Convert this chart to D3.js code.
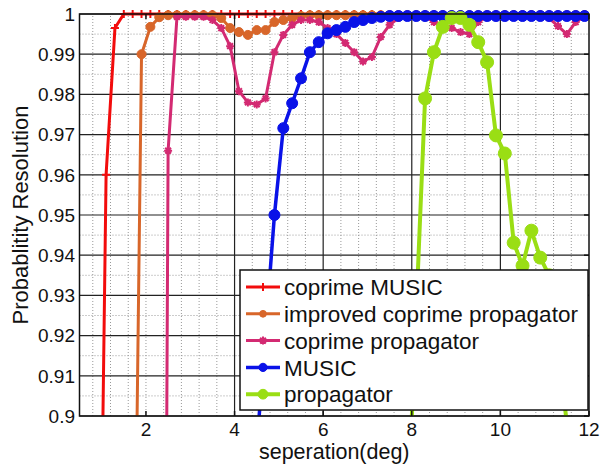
<!DOCTYPE html>
<html>
<head>
<meta charset="utf-8">
<script src="https://cdn.jsdelivr.net/npm/d3@7"></script>
<style>
  body { margin: 0; background: #fff; }
  text { font-family: Arial, "Liberation Sans", sans-serif; fill: #111; }
</style>
</head>
<body>
<svg id="chart" width="607" height="465"></svg>
<script>
// separation angles (deg) where each curve was sampled
const separation = [
  0.5, 0.7, 0.9, 1.1, 1.3, 1.5, 1.7, 1.9, 2.1, 2.3,
  2.5, 2.7, 2.9, 3.1, 3.3, 3.5, 3.7, 3.9, 4.1, 4.3,
  4.5, 4.7, 4.9, 5.1, 5.3, 5.5, 5.7, 5.9, 6.1, 6.3,
  6.5, 6.7, 6.9, 7.1, 7.3, 7.5, 7.7, 7.9, 8.1, 8.3,
  8.5, 8.7, 8.9, 9.1, 9.3, 9.5, 9.7, 9.9, 10.1, 10.3,
  10.5, 10.7, 10.9, 11.1, 11.3, 11.5, 11.7, 11.9
];

// null = far below the visible range
const coprimeMusic = [
  null, null, 0.79, 0.960, 0.9965, 1, 1, 1, 1, 1,
  1, 1, 1, 1, 1, 1, 1, 1, 1, 1,
  1, 1, 1, 1, 1, 1, 1, 1, 1, 1,
  1, 1, 1, 1, 1, 1, 1, 1, 1, 1,
  1, 1, 1, 1, 1, 1, 1, 1, 1, 1,
  1, 1, 1, 1, 1, 1, 1, 1
];
const improvedCoprimeProp = [
  null, null, null, null, null, null, 0.81, 0.990, 0.9968, 0.9992,
  0.9997, 0.9997, 0.9997, 0.9997, 0.9997, 0.9997, 0.999, 0.9965, 0.9955, 0.9948,
  0.996, 0.996, 0.998, 0.9985, 0.999, 0.9995, 0.9997, 0.9997, 0.9997, 0.9997,
  0.9997, 0.9997, 0.9997, 0.9997, 0.9997, 0.9997, 0.9997, 0.9997, 0.9997, 0.9997,
  0.9997, 0.9997, 0.9997, 0.9997, 0.9997, 0.9997, 0.9997, 0.9997, 0.9997, 0.9997,
  0.9997, 0.9997, 0.9997, 0.9997, 0.9997, 0.9997, 0.9997, 0.9997
];
const coprimeProp = [
  null, null, null, null, null, null, null, null, null, 0.526,
  0.966, 0.9993, 0.9993, 0.9993, 0.9993, 0.9985, 0.9965, 0.992, 0.9808, 0.978,
  0.9775, 0.979, 0.9905, 0.9948, 0.9973, 0.9985, 0.9985, 0.998, 0.9965, 0.995,
  0.9928, 0.9905, 0.9882, 0.9893, 0.9943, 0.9973, 0.999, 0.9993, 0.9993, 0.9993,
  0.998, 0.997, 0.9965, 0.9955, 0.995, 0.998, 0.9993, 0.9993, 0.9993, 0.9993,
  0.9993, 0.9993, 0.9993, 0.999, 0.997, 0.995, 0.998, 0.9993
];
const music = [
  null, null, null, null, null, null, null, null, null, null,
  null, null, null, null, null, null, null, null, null, null,
  0.892, 0.921, 0.950, 0.9716, 0.9778, 0.984, 0.9905, 0.993, 0.9952, 0.996,
  0.9968, 0.998, 0.9985, 0.999, 0.9993, 0.9995, 0.9995, 0.9995, 0.9995, 0.9995,
  0.9995, 0.9995, 0.9995, 0.9995, 0.9995, 0.9995, 0.9995, 0.9995, 0.9995, 0.9995,
  0.9995, 0.9995, 0.9995, 0.9995, 0.9995, 0.9995, 0.9995, 0.9995
];
const propagator = [
  null, null, null, null, null, null, null, null, null, null,
  null, null, null, null, null, null, null, null, null, null,
  null, null, null, null, null, null, null, null, null, null,
  null, null, null, null, null, null, null, 0.873, 0.926, 0.979,
  0.9905, 0.9968, 0.999, 0.999, 0.9973, 0.993, 0.988, 0.9698, 0.9653, 0.9431,
  0.9374, 0.9461, 0.9394, 0.935, 0.918, 0.898, null, null
];

const xTicks = [2, 4, 6, 8, 10, 12];
const yTicks = [0.9, 0.91, 0.92, 0.93, 0.94, 0.95, 0.96, 0.97, 0.98, 0.99, 1];
const yTickLabels = ["0.9", "0.91", "0.92", "0.93", "0.94", "0.95", "0.96", "0.97", "0.98", "0.99", "1"];
const xSolidGrid = [4, 6, 8, 10];
const xMinorGrid = [0.8, 1.2, 1.6, 2, 2.4, 2.8, 3.2, 3.6, 4.4, 4.8, 5.2, 5.6, 6.4, 6.8, 7.2, 7.6, 8.4, 8.8, 9.2, 9.6, 10.4, 10.8, 11.2, 11.6];
const yMinorGrid = [0.905, 0.915, 0.925, 0.935, 0.945, 0.955, 0.965, 0.975, 0.985, 0.995];

const series = [
  { name: "coprime MUSIC", values: coprimeMusic, color: "#f20c0c", width: 3, marker: "plus", size: 4 },
  { name: "improved coprime propagator", values: improvedCoprimeProp, color: "#d8662a", width: 3, marker: "circle", size: 4.5 },
  { name: "coprime propagator", values: coprimeProp, color: "#d32a72", width: 3, marker: "star", size: 4 },
  { name: "MUSIC", values: music, color: "#0a12e8", width: 3.5, marker: "circle", size: 5.5 },
  { name: "propagator", values: propagator, color: "#9ade14", width: 4, marker: "circle", size: 6.5 }
];

const svg = d3.select("#chart");
const margin = { left: 79.5, right: 18, top: 14, bottom: 49 };
const W = 607, H = 465;

const x = d3.scaleLinear().domain([0.5, 12]).range([margin.left, W - margin.right]);
const y = d3.scaleLinear().domain([0.9, 1]).range([H - margin.bottom, margin.top]);

svg.append("rect").attr("width", W).attr("height", H).attr("fill", "#fff");

svg.append("clipPath").attr("id", "plot-clip")
  .append("rect")
  .attr("x", x(0.5)).attr("y", y(1) - 6)
  .attr("width", x(12) - x(0.5)).attr("height", y(0.9) - y(1) + 6);

// grid
const grid = svg.append("g");
grid.selectAll(".vminor").data(xMinorGrid).join("line")
  .attr("x1", d => x(d)).attr("x2", d => x(d))
  .attr("y1", y(0.9)).attr("y2", y(1))
  .attr("stroke", "#999").attr("stroke-width", 1).attr("stroke-dasharray", "1,2");
grid.selectAll(".hminor").data(yMinorGrid).join("line")
  .attr("x1", x(0.5)).attr("x2", x(12))
  .attr("y1", d => y(d)).attr("y2", d => y(d))
  .attr("stroke", "#999").attr("stroke-width", 1).attr("stroke-dasharray", "1,2");
grid.selectAll(".vmajor").data(xSolidGrid).join("line")
  .attr("x1", d => x(d)).attr("x2", d => x(d))
  .attr("y1", y(0.9)).attr("y2", y(1))
  .attr("stroke", "#222").attr("stroke-width", 1.2);
grid.selectAll(".hmajor").data(yTicks).join("line")
  .attr("x1", x(0.5)).attr("x2", x(12))
  .attr("y1", d => y(d)).attr("y2", d => y(d))
  .attr("stroke", "#222").attr("stroke-width", 1.2);

// curves
const line = d3.line()
  .defined(d => d[1] != null)
  .x(d => x(d[0]))
  .y(d => y(d[1]));

const plot = svg.append("g").attr("clip-path", "url(#plot-clip)");

function markerPath(type, s) {
  if (type === "plus") return `M${-s},0H${s}M0,${-s}V${s}`;
  const k = s * 0.72;
  return `M${-s},0H${s}M0,${-s}V${s}M${-k},${-k}L${k},${k}M${-k},${k}L${k},${-k}`;
}

function drawMarker(g, s, cx, cy) {
  if (s.marker === "circle") {
    g.append("circle").attr("cx", cx).attr("cy", cy).attr("r", s.size)
      .attr("fill", s.color).attr("stroke", s.color).attr("stroke-width", 1);
  } else {
    g.append("path").attr("d", markerPath(s.marker, s.size))
      .attr("transform", `translate(${cx},${cy})`)
      .attr("fill", "none").attr("stroke", s.color).attr("stroke-width", 2);
  }
}

series.forEach(s => {
  const pts = separation.map((v, i) => [v, s.values[i]]);
  plot.append("path").datum(pts)
    .attr("d", line)
    .attr("fill", "none")
    .attr("stroke", s.color)
    .attr("stroke-width", s.width)
    .attr("stroke-linejoin", "round");
  const mg = plot.append("g");
  pts.filter(p => p[1] != null).forEach(p => drawMarker(mg, s, x(p[0]), y(p[1])));
});

// frame and inward ticks
const axes = svg.append("g");
axes.append("rect")
  .attr("x", x(0.5)).attr("y", y(1))
  .attr("width", x(12) - x(0.5)).attr("height", y(0.9) - y(1))
  .attr("fill", "none").attr("stroke", "#111").attr("stroke-width", 1.5);

const tl = 5;
axes.selectAll(".xtb").data(xTicks).join("line")
  .attr("x1", d => x(d)).attr("x2", d => x(d))
  .attr("y1", y(0.9)).attr("y2", y(0.9) - tl)
  .attr("stroke", "#111").attr("stroke-width", 1.5);
axes.selectAll(".xtt").data(xTicks).join("line")
  .attr("x1", d => x(d)).attr("x2", d => x(d))
  .attr("y1", y(1)).attr("y2", y(1) + tl)
  .attr("stroke", "#111").attr("stroke-width", 1.5);
axes.selectAll(".ytr").data(yTicks).join("line")
  .attr("x1", x(12)).attr("x2", x(12) - tl)
  .attr("y1", d => y(d)).attr("y2", d => y(d))
  .attr("stroke", "#111").attr("stroke-width", 1.5);

axes.selectAll(".xlab").data(xTicks).join("text")
  .attr("x", d => x(d)).attr("y", 436)
  .attr("text-anchor", "middle").attr("font-size", 19)
  .text(d => d);
axes.selectAll(".ylab").data(yTicks).join("text")
  .attr("x", 75).attr("y", d => y(d)).attr("dy", "0.36em")
  .attr("text-anchor", "end").attr("font-size", 19)
  .text((d, i) => yTickLabels[i]);

svg.append("text")
  .attr("x", (x(0.5) + x(12)) / 2).attr("y", 459)
  .attr("text-anchor", "middle").attr("font-size", 21.5)
  .text("seperation(deg)");
svg.append("text")
  .attr("transform", `translate(28,${(y(0.9) + y(1)) / 2}) rotate(-90)`)
  .attr("text-anchor", "middle").attr("font-size", 22)
  .text("Probablitity Resolution");

// legend
const lg = svg.append("g").attr("transform", "translate(240,270)");
lg.append("rect").attr("width", 348).attr("height", 140)
  .attr("fill", "#fff").attr("stroke", "#111").attr("stroke-width", 1.5);
series.forEach((s, i) => {
  const cy = 17 + i * 26.8;
  lg.append("line").attr("x1", 6).attr("x2", 40).attr("y1", cy).attr("y2", cy)
    .attr("stroke", s.color).attr("stroke-width", s.width);
  drawMarker(lg, { ...s, size: s.marker === "circle" ? s.size * 0.75 : s.size }, 23, cy);
  lg.append("text").attr("x", 44).attr("y", cy).attr("dy", "0.36em")
    .attr("font-size", 22.5).text(s.name);
});
</script>
</body>
</html>
